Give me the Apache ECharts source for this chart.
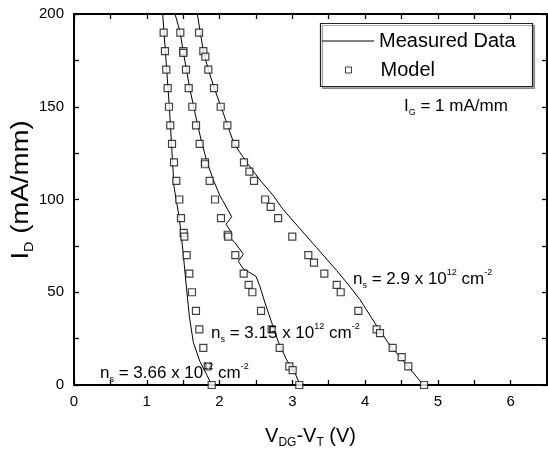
<!DOCTYPE html>
<html>
<head>
<meta charset="utf-8">
<script src="https://cdn.jsdelivr.net/npm/echarts@6/dist/echarts.min.js"></script>
<style>
html,body{margin:0;padding:0;background:#fff;}
#c{width:548px;height:454px;}
</style>
</head>
<body>
<div id="c"></div>
<script>
// ---- data (V_DG - V_T in volts, I_D in mA/mm) ----
var measured1V = [1.219, 1.31, 1.374, 1.447, 1.498, 1.539, 1.585, 1.640, 1.731, 1.823, 1.892];
var measured1I = [200, 150, 107, 90, 72, 55, 37, 23, 12.6, 5.6, 0];

var model1V = [1.232, 1.250, 1.268, 1.287, 1.305, 1.323, 1.347, 1.374, 1.406, 1.447, 1.470, 1.507, 1.516, 1.548, 1.585, 1.621, 1.676, 1.722, 1.777, 1.837, 1.892];
var model1I = [190, 180, 170, 160, 150, 140, 130, 120, 110, 100, 90, 82, 80, 70, 60, 50, 40, 30, 20, 10, 0];

var measured2V = [1.388, 1.46, 1.50, 1.545, 1.59, 1.645, 1.70, 1.76, 1.83, 1.92, 2.006, 2.043, 2.167, 2.089, 2.153, 2.125, 2.212, 2.327, 2.258, 2.327, 2.501, 2.556, 2.625, 2.716, 2.808, 2.922, 3.037, 3.106];
var measured2I = [200, 190, 180, 170, 160, 150, 140, 130, 120, 110, 102, 99.5, 90.7, 86.7, 82.8, 80.2, 76.7, 70.5, 66.7, 62.6, 58.6, 53, 44.2, 33.7, 23.2, 13.5, 6.5, 0];

var model2V = [1.461, 1.502, 1.502, 1.539, 1.576, 1.626, 1.677, 1.727, 1.800, 1.800, 1.864, 1.938, 2.020, 2.112, 2.120, 2.217, 2.332, 2.400, 2.451, 2.570, 2.716, 2.826, 2.959, 3.005, 3.096];
var model2I = [190, 180, 179, 170, 160, 150, 140, 130, 120, 119, 110, 100, 90, 81, 80, 70, 60, 54, 50, 40, 30, 20, 10, 8, 0];

var measured3V = [1.695, 1.777, 1.846, 1.928, 2.02, 2.11, 2.20, 2.38, 2.556, 2.74, 2.876, 3.335, 3.61, 3.793, 3.93, 4.159, 4.342, 4.572, 4.80];
var measured3I = [200, 180, 170, 160, 150, 140, 130, 119.6, 110.5, 102, 94.5, 74, 61.7, 53, 46, 31.9, 21.4, 10.9, 0];

var model3V = [1.718, 1.777, 1.805, 1.846, 1.924, 2.016, 2.107, 2.217, 2.336, 2.410, 2.474, 2.627, 2.703, 2.805, 3.000, 3.220, 3.298, 3.440, 3.610, 3.665, 3.907, 4.159, 4.205, 4.379, 4.503, 4.594, 4.810];
var model3I = [190, 180, 177, 170, 160, 150, 140, 130, 120, 115, 110, 100, 96, 90, 80, 70, 66, 60, 54, 50, 40, 30, 28, 20, 15, 10, 0];

var xMin = 0, xMax = 6.5, xStep = 0.5, xLabelStep = 1;
var yMin = 0, yMax = 200, yStep = 25, yLabelStep = 50;

var seriesNames = ['Measured Data', 'Model'];
var annotations = [
  '{n|n}{s|s}{n| = 3.66 x 10}{p|12}{n| cm}{p|-2}',
  '{n|n}{s|s}{n| = 3.15 x 10}{p|12}{n| cm}{p|-2}',
  '{n|n}{s|s}{n| = 2.9 x 10}{p|12}{n| cm}{p|-2}'
];
var gateText = '{g|I}{s|G}{g| = 1 mA/mm}';
var xTitle = '{v|V}{s|DG}{v|-V}{s|T}{v| (V)}';
var yTitle = '{v|I}{s|D}{v| (mA/mm)}';

// ---- build ----
function zip(a, b) { return a.map(function (v, i) { return [v, b[i]]; }); }

var FONT = '"Liberation Sans", Arial, sans-serif';
var richText = {
  n: { fontSize: 17, fontFamily: FONT, color: '#000', lineHeight: 22, verticalAlign: 'middle' },
  g: { fontSize: 17, fontFamily: FONT, color: '#000', lineHeight: 22, verticalAlign: 'middle' },
  s: { fontSize: 9, fontFamily: FONT, color: '#000', lineHeight: 22, verticalAlign: 'bottom' },
  p: { fontSize: 9, fontFamily: FONT, color: '#000', lineHeight: 22, verticalAlign: 'top' }
};
var titleRich = {
  v: { fontSize: 20, fontFamily: FONT, color: '#000', lineHeight: 26, verticalAlign: 'middle' },
  s: { fontSize: 12, fontFamily: FONT, color: '#000', lineHeight: 26, verticalAlign: 'bottom' }
};

function lineSeries(v, i) {
  return {
    type: 'line', name: seriesNames[0], data: zip(v, i),
    symbol: 'none', smooth: false, z: 2,
    lineStyle: { color: '#000', width: 1 },
    itemStyle: { color: '#000' },
    animation: false
  };
}
function modelSeries(v, i) {
  return {
    type: 'scatter', name: seriesNames[1], data: zip(v, i),
    symbol: 'rect', symbolSize: 7, z: 3,
    itemStyle: { color: '#fff', borderColor: '#111', borderWidth: 1.2 },
    animation: false
  };
}

var axisCommon = {
  axisLine: { show: true, onZero: false, lineStyle: { color: '#000', width: 2 } },
  axisTick: { show: true, inside: true, length: 5, lineStyle: { color: '#000', width: 1.3 } },
  splitLine: { show: false }
};

function fmtEvery(step) {
  return function (val) {
    var r = val / step;
    return Math.abs(r - Math.round(r)) < 1e-6 ? String(Math.round(val * 100) / 100) : '';
  };
}

var chart = echarts.init(document.getElementById('c'), null, { renderer: 'canvas' });
chart.setOption({
  backgroundColor: '#fff',
  animation: false,
  grid: { left: 74, right: 1, top: 14, bottom: 60, containLabel: false },
  xAxis: [
    Object.assign({}, axisCommon, {
      type: 'value', min: xMin, max: xMax, interval: xStep, position: 'bottom',
      axisLabel: { show: true, margin: 9, fontSize: 15, fontFamily: FONT, color: '#000', formatter: fmtEvery(xLabelStep), showMaxLabel: false },
      name: xTitle, nameLocation: 'middle', nameGap: 38,
      nameTextStyle: { rich: titleRich }
    }),
    Object.assign({}, axisCommon, {
      type: 'value', min: xMin, max: xMax, interval: xStep, position: 'top',
      axisLabel: { show: false }
    })
  ],
  yAxis: [
    Object.assign({}, axisCommon, {
      type: 'value', min: yMin, max: yMax, interval: yStep, position: 'left',
      axisLabel: { show: true, margin: 10, fontSize: 15, fontFamily: FONT, color: '#000', formatter: fmtEvery(yLabelStep) }
    }),
    Object.assign({}, axisCommon, {
      type: 'value', min: yMin, max: yMax, interval: yStep, position: 'right',
      axisLabel: { show: false }
    })
  ],
  legend: [
    {
      data: [{ name: seriesNames[0], icon: 'rect' }], left: 322, top: 31, padding: 0, itemWidth: 52, itemHeight: 1,
      selectedMode: false, z: 10,
      itemStyle: { color: '#000', borderWidth: 0 },
      textStyle: { fontSize: 20, fontFamily: FONT, color: '#000', lineHeight: 20 }
    },
    {
      data: [{ name: seriesNames[1], icon: 'rect' }], left: 345, top: 60, padding: 0, itemWidth: 6, itemHeight: 6,
      selectedMode: false, z: 10,
      itemStyle: { color: '#fff', borderColor: '#111', borderWidth: 1 },
      textStyle: { fontSize: 20, fontFamily: FONT, color: '#000', lineHeight: 20, padding: [0, 0, 0, 24] }
    }
  ],
  graphic: [
    { type: 'rect', z: 5, shape: { x: 320.5, y: 23.5, width: 212, height: 63 },
      style: { fill: '#fff', stroke: '#222', lineWidth: 1.2, shadowColor: 'rgba(0,0,0,0.35)', shadowOffsetX: 2, shadowOffsetY: 2, shadowBlur: 0 } },
    { type: 'text', z: 6, x: 404, y: 106, style: { text: gateText, rich: richText, verticalAlign: 'middle' } },
    { type: 'text', z: 6, x: 100, y: 373, style: { text: annotations[0], rich: richText, verticalAlign: 'middle' } },
    { type: 'text', z: 6, x: 211, y: 333, style: { text: annotations[1], rich: richText, verticalAlign: 'middle' } },
    { type: 'text', z: 6, x: 353, y: 279, style: { text: annotations[2], rich: richText, verticalAlign: 'middle' } },
    { type: 'text', z: 6, x: 22, y: 190, rotation: Math.PI / 2, scaleX: 1.2,
      style: { text: yTitle, rich: { v: { fontSize: 23, fontFamily: FONT, color: '#000', lineHeight: 28, verticalAlign: 'middle' }, s: { fontSize: 12, fontFamily: FONT, color: '#000', lineHeight: 28, verticalAlign: 'bottom' } }, align: 'center', verticalAlign: 'middle' } }
  ],
  series: [
    lineSeries(measured1V, measured1I),
    lineSeries(measured2V, measured2I),
    lineSeries(measured3V, measured3I),
    modelSeries(model1V, model1I),
    modelSeries(model2V, model2I),
    modelSeries(model3V, model3I)
  ]
});
</script>
</body>
</html>
